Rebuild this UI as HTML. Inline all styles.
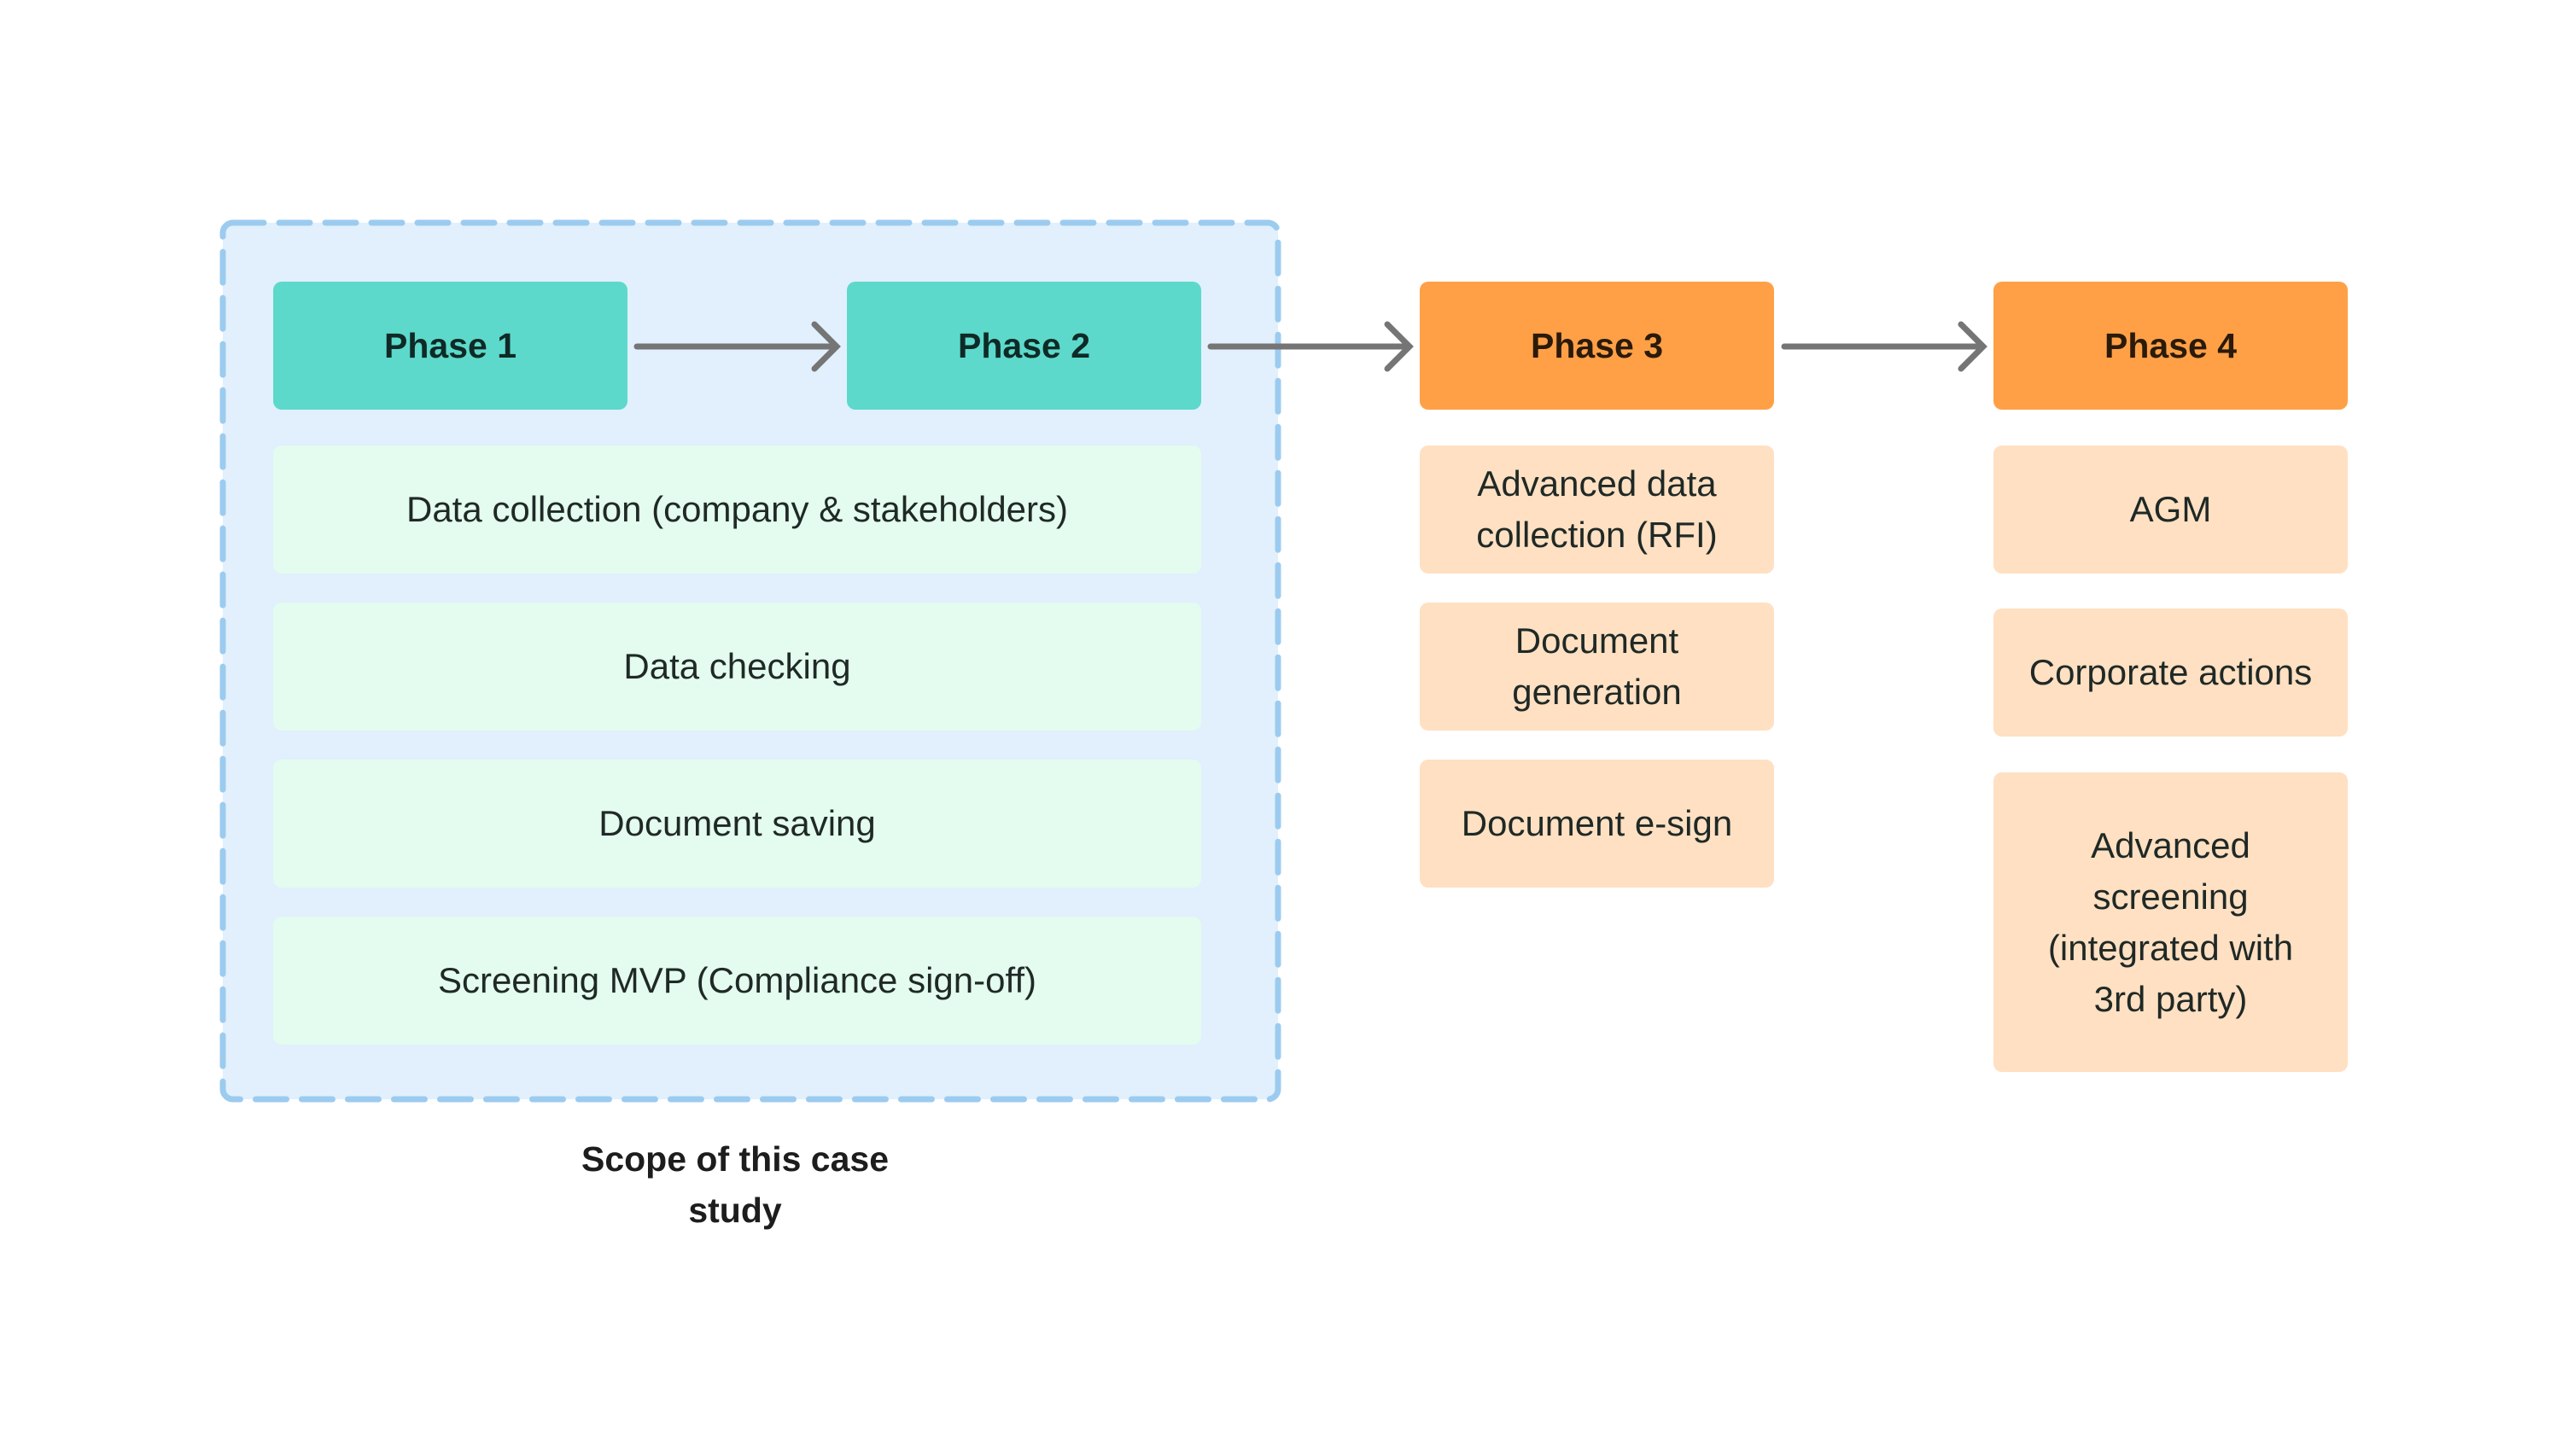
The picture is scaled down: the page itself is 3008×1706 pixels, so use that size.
<!DOCTYPE html>
<html><head><meta charset="utf-8"><style>
body{margin:0;width:3008px;height:1706px;background:#fff;position:relative;overflow:hidden;font-family:"Liberation Sans",sans-serif;color:#1f2926}
.b{position:absolute;display:flex;align-items:center;justify-content:center;text-align:center;border-radius:10px;font-size:42px;line-height:60px}
.t{background:#5cd9cb;font-weight:bold;color:#0f2a26;font-size:41px}
.o{background:#ffa046;font-weight:bold;color:#2a1a0a;font-size:41px}
.g{background:#e4fbef}
.p{background:#ffe0c2}
</style></head><body>
<svg width="3008" height="1706" style="position:absolute;left:0;top:0">
<rect x="261" y="261" width="1236" height="1027" rx="12" fill="#e1f0fc" stroke="#9ccbf0" stroke-width="7" stroke-dasharray="36 18" stroke-linecap="round"/>
<g stroke="#757575" stroke-width="7" stroke-linecap="round" fill="none">
<path d="M746 406H980M954 380L980 406L954 432"/>
<path d="M1418 406H1651M1625 380L1651 406L1625 432"/>
<path d="M2090 406H2323M2297 380L2323 406L2297 432"/>
</g>
</svg>
<div class="b t" style="left:320px;top:330px;width:415px;height:150px">Phase 1</div>
<div class="b t" style="left:992px;top:330px;width:415px;height:150px">Phase 2</div>
<div class="b o" style="left:1663px;top:330px;width:415px;height:150px">Phase 3</div>
<div class="b o" style="left:2335px;top:330px;width:415px;height:150px">Phase 4</div>
<div class="b g" style="left:320px;top:522px;width:1087px;height:150px">Data collection (company &amp; stakeholders)</div>
<div class="b g" style="left:320px;top:706px;width:1087px;height:150px">Data checking</div>
<div class="b g" style="left:320px;top:890px;width:1087px;height:150px">Document saving</div>
<div class="b g" style="left:320px;top:1074px;width:1087px;height:150px">Screening MVP (Compliance sign-off)</div>
<div class="b p" style="left:1663px;top:522px;width:415px;height:150px">Advanced data<br>collection (RFI)</div>
<div class="b p" style="left:1663px;top:706px;width:415px;height:150px">Document<br>generation</div>
<div class="b p" style="left:1663px;top:890px;width:415px;height:150px">Document e-sign</div>
<div class="b p" style="left:2335px;top:522px;width:415px;height:150px">AGM</div>
<div class="b p" style="left:2335px;top:713px;width:415px;height:150px">Corporate actions</div>
<div class="b p" style="left:2335px;top:905px;width:415px;height:351px">Advanced<br>screening<br>(integrated with<br>3rd party)</div>
<div class="b" style="left:611px;top:1327px;width:500px;height:122px;font-weight:bold;color:#1d1d1d;font-size:41px">Scope of this case<br>study</div>
</body></html>
